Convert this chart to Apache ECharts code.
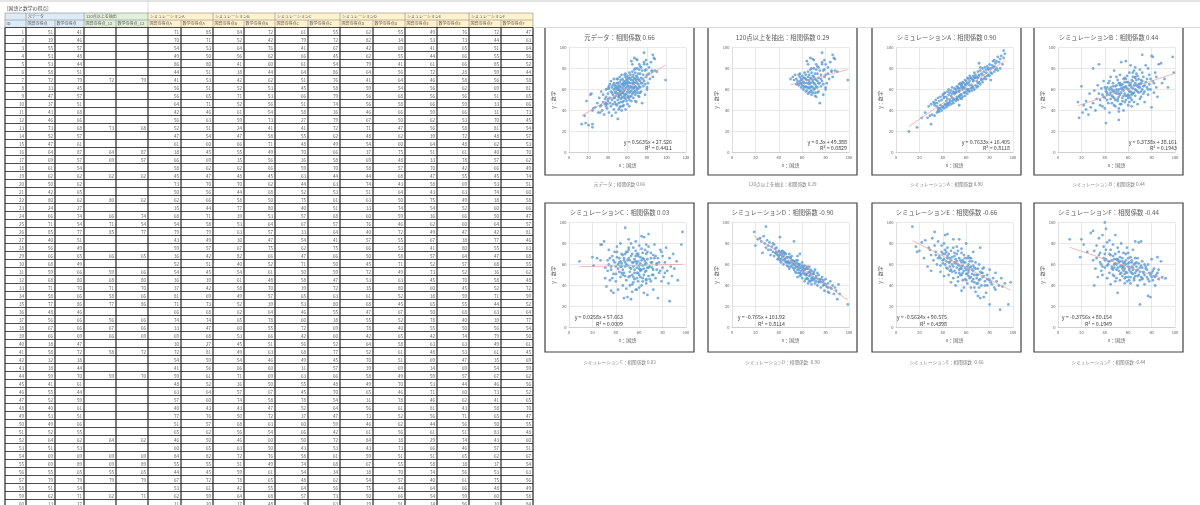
<!DOCTYPE html>
<html>
<head>
<meta charset="utf-8">
<script src="https://cdn.jsdelivr.net/npm/echarts@6/dist/echarts.min.js"></script>
<style>
  html, body { margin: 0; padding: 0; background: #fff; width: 1200px; height: 505px; overflow: hidden; }
  #chart { position: absolute; left: 0; top: 0; width: 1200px; height: 505px; }
</style>
</head>
<body>
<div id="chart"></div>
<script>
// 国語(x)・数学(y)の得点 [x, y] -- 先頭から表の ID 1,2,3... の順
var origData = [
  [51,41],[39,46],[55,57],[53,48],[53,44],[58,51],[72,79],[33,45],[47,57],[37,51],
  [43,68],[46,66],[73,68],[52,57],[47,61],[64,87],[69,57],[61,54],[62,62],[50,62],
  [42,65],[80,62],[24,27],[66,74],[71,54],[85,77],[40,51],[56,49],[66,65],[68,49],
  [59,66],[68,80],[71,70],[58,66],[77,86],[48,46],[56,66],[67,66],[66,69],[38,47],
  [58,72],[32,38],[38,44],[59,70],[41,61],[55,44],[52,59],[40,61],[53,51],[49,66],
  [52,55],[64,62],[51,53],[69,69],[69,89],[55,65],[79,79],[51,54],[62,71],
  [13,27],[17,28],[20,26],[24,24],[16,35],[18,49],[23,56],[24,40],[25,42],[22,55],
  [27,43],[29,47],[30,38],[31,52],[32,44],[33,58],[34,40],[35,48],[35,55],[36,36],
  [37,46],[38,53],[38,60],[39,42],[40,49],[40,56],[41,38],[41,63],[42,47],[42,52],
  [43,44],[43,58],[44,35],[44,50],[44,62],[45,46],[45,55],[46,41],[46,52],[46,60],
  [47,48],[47,64],[48,38],[48,54],[48,58],[49,45],[49,61],[49,70],[50,32],[50,50],
  [50,56],[50,66],[51,47],[51,53],[51,60],[52,43],[52,63],[52,72],[53,55],[53,59],
  [54,40],[54,52],[54,65],[55,48],[55,61],[55,70],[56,45],[56,56],[56,63],[57,52],
  [57,59],[57,74],[58,41],[58,55],[58,68],[59,49],[59,62],[60,46],[60,58],[60,64],
  [60,73],[61,52],[61,60],[61,67],[62,44],[62,57],[62,76],[63,53],[63,63],[63,70],
  [64,49],[64,59],[64,66],[65,56],[65,72],[65,84],[66,52],[66,61],[67,58],[67,71],
  [67,90],[68,55],[68,63],[68,76],[69,48],[69,67],[70,60],[70,72],[70,88],[71,57],
  [71,65],[72,53],[72,69],[72,84],[73,62],[73,75],[74,58],[74,71],[74,81],[75,47],
  [75,66],[76,74],[76,63],[77,95],[77,68],[78,55],[78,78],[79,72],[80,60],[80,84],
  [81,66],[82,75],[83,70],[85,78],[86,93],[87,90],[88,89],[88,78],[90,77],[99,69],
  [44,57],[45,64],[46,70],[47,52],[48,63],[49,56],[50,60],[50,70],[51,64],[52,67],
  [53,62],[53,69],[54,57],[54,74],[55,53],[56,68],[56,59],[57,64],[57,54],[58,61],
  [58,75],[59,56],[59,66],[60,69],[60,53],[61,63],[61,71],[62,66],[62,50],[63,58],
  [63,74],[64,69],[64,54],[65,62],[65,77],[66,67],[66,57],[67,62],[67,79],[68,70],
  [68,59],[69,73],[69,62],[70,66],[70,80],[71,75],[71,61],[72,63],[73,82],[73,57],
  [74,66],[75,78],[76,70],[77,84],[78,65],[79,88],[80,74],[82,81],[84,86],[86,72]
];
var simA = [
  [71,85],[70,71],[54,53],[49,50],[86,80],[44,51],[41,53],[56,51],[56,65],[64,71],
  [42,46],[56,63],[52,51],[47,54],[61,60],[38,45],[66,69],[58,62],[45,47],[73,70],
  [50,56],[62,66],[35,44],[68,71],[54,58],[79,79],[43,49],[59,57],[36,42],[52,51],
  [54,45],[36,39],[37,42],[81,69],[71,73],[66,68],[74,74],[33,47],[69,68],[30,27],
  [72,81],[54,59],[41,56],[59,61],[48,52],[63,64],[57,60],[40,43],[77,76],[51,57],
  [65,62],[46,50],[60,65],[84,82],[55,55],[44,45],[67,72],[53,61],[62,59],
  [11,20],[18,24],[22,33],[25,38],[27,33],[28,44],[29,35],[30,46],[31,36],[32,48],
  [33,35],[33,45],[34,50],[35,38],[35,47],[36,52],[36,40],[37,49],[37,39],[38,53],
  [38,42],[39,50],[39,40],[40,55],[40,44],[41,52],[41,42],[42,57],[42,45],[43,53],
  [43,43],[44,58],[44,47],[45,55],[45,45],[45,60],[46,48],[46,57],[47,59],[47,46],
  [48,56],[48,49],[48,62],[49,47],[49,58],[50,51],[50,61],[50,57],[51,49],[51,60],
  [52,63],[52,53],[52,58],[53,50],[53,62],[54,65],[54,54],[55,52],[55,61],[55,66],
  [56,55],[56,64],[57,53],[57,67],[57,62],[58,57],[58,66],[59,54],[59,64],[59,69],
  [60,58],[60,68],[61,56],[61,66],[61,71],[62,60],[62,70],[63,58],[63,68],[63,73],
  [64,61],[64,71],[65,59],[65,70],[65,64],[66,62],[66,73],[67,60],[67,71],[67,76],
  [68,64],[68,74],[69,62],[69,72],[70,66],[70,77],[70,63],[71,74],[71,67],[72,65],
  [72,78],[73,75],[73,69],[74,80],[74,67],[75,77],[75,70],[76,72],[76,81],[77,79],
  [77,70],[78,82],[78,73],[79,80],[79,74],[80,84],[80,73],[81,80],[81,76],[82,83],
  [82,75],[83,87],[83,81],[84,77],[84,88],[85,85],[85,79],[86,87],[87,78],[87,91],
  [88,86],[89,89],[89,80],[90,92],[91,84],[92,97],[92,90],[93,94]
];
var simB = [
  [84,72],[52,42],[64,76],[56,62],[41,60],[38,44],[42,62],[52,53],[71,53],[52,56],
  [61,54],[59,73],[24,41],[47,58],[66,71],[55,49],[35,56],[62,66],[48,45],[70,62],
  [44,68],[58,50],[77,80],[39,53],[53,64],[63,57],[30,47],[67,75],[82,66],[40,52],
  [54,61],[61,48],[58,70],[49,57],[52,39],[62,64],[65,78],[60,55],[53,66],[45,51],
  [49,63],[54,46],[66,60],[71,69],[36,50],[57,67],[74,58],[43,47],[50,72],[68,63],
  [56,54],[46,60],[63,50],[72,76],[51,49],[59,61],[78,65],[42,55],[64,68],
  [17,48],[18,33],[20,63],[21,38],[22,45],[24,49],[26,36],[27,56],[28,43],[30,80],
  [31,59],[32,40],[33,51],[34,64],[35,84],[36,45],[37,61],[38,55],[39,68],[40,42],
  [41,28],[41,58],[42,50],[43,66],[44,38],[44,55],[45,62],[45,72],[46,47],[47,53],
  [47,66],[48,59],[48,78],[49,44],[50,56],[50,64],[51,51],[51,69],[52,31],[52,60],
  [53,46],[53,74],[54,57],[54,86],[55,52],[55,65],[56,40],[56,59],[57,71],[57,48],
  [58,63],[58,87],[59,54],[60,45],[60,67],[61,58],[61,76],[62,52],[62,83],[63,62],
  [63,44],[64,56],[64,72],[65,64],[65,48],[66,54],[66,81],[67,59],[67,69],[68,46],
  [68,73],[69,62],[69,57],[70,79],[70,51],[71,66],[72,60],[72,93],[73,56],[73,72],
  [74,64],[74,48],[75,83],[76,62],[76,70],[77,55],[78,74],[79,60],[80,92],[80,43],
  [81,91],[81,68],[82,57],[83,76],[84,62],[85,53],[86,84],[88,85],[89,66],[91,70],
  [94,62],[98,91],[99,76],
  [45,57],[48,52],[50,60],[52,66],[53,55],[55,60],[56,70],[57,56],[58,54],[59,67],
  [60,60],[61,64],[62,58],[63,69],[64,61],[65,57],[66,66],[67,64],[68,58],[69,70],
  [70,65],[71,58],[72,68],[73,63],[75,67],[77,60],[79,70],[47,63],[49,50],[51,58],
  [54,64],[57,62],[60,52],[63,55],[66,72],[69,65],[46,54],[44,60],[42,57],[40,62]
];
var simC = [
  [61,55],[79,72],[41,67],[66,45],[61,54],[64,86],[51,76],[45,58],[66,79],[51,74],
  [58,36],[27,79],[41,72],[55,62],[48,49],[70,66],[36,58],[59,70],[63,44],[44,63],
  [52,53],[75,61],[40,51],[57,68],[67,57],[33,64],[54,41],[62,75],[47,66],[71,50],
  [50,59],[58,47],[39,72],[65,63],[53,80],[46,55],[60,38],[72,69],[42,60],[56,52],
  [68,77],[49,45],[31,57],[63,66],[55,48],[45,70],[78,54],[52,64],[37,47],[60,59],
  [66,42],[50,72],[43,53],[58,61],[74,68],[54,34],[48,62],[64,56],[57,73],
  [9,63],[20,67],[21,59],[24,66],[27,64],[28,79],[30,82],[31,47],[32,39],[33,54],
  [34,60],[34,74],[35,45],[36,35],[37,68],[38,51],[38,33],[39,62],[40,44],[41,77],
  [42,56],[42,36],[43,66],[44,48],[44,80],[45,61],[46,40],[46,69],[47,52],[47,28],
  [48,95],[48,58],[49,72],[49,37],[50,64],[50,29],[51,48],[51,84],[52,57],[52,40],
  [53,68],[53,27],[54,50],[54,62],[55,76],[55,43],[56,65],[56,55],[57,36],[57,82],
  [58,70],[58,52],[59,44],[59,63],[60,78],[60,56],[61,48],[61,67],[62,87],[62,40],
  [63,59],[63,71],[64,33],[64,50],[65,74],[65,60],[66,46],[66,54],[67,31],[67,65],
  [68,89],[68,49],[69,58],[70,71],[70,44],[71,62],[72,36],[72,55],[73,79],[74,47],
  [75,60],[76,28],[76,66],[77,52],[78,74],[79,44],[80,57],[80,68],[81,48],[82,62],
  [83,76],[84,54],[85,42],[86,25],[86,66],[87,58],[88,49],[89,70],[90,56],[92,63],
  [93,45],[96,79],[97,91],
  [40,58],[43,62],[45,52],[47,64],[49,60],[51,66],[52,49],[54,70],[55,58],[56,46],
  [57,63],[58,57],[59,68],[60,50],[61,61],[62,55],[63,47],[64,65],[65,53],[66,61],
  [67,72],[68,57],[69,46],[70,62],[72,50],[73,66],[75,55],[48,70],[46,50],[44,58],
  [38,64],[36,55],[53,56],[59,52],[62,64],[66,70],[71,57],[77,62],[82,52],[35,66]
];
var simD = [
  [62,55],[82,34],[42,69],[62,55],[79,41],[64,56],[41,64],[59,54],[56,68],[56,58],
  [46,66],[67,50],[71,47],[48,62],[54,60],[37,75],[69,48],[58,57],[44,68],[74,43],
  [51,64],[63,50],[33,74],[60,59],[76,46],[40,72],[57,55],[66,53],[50,58],[45,71],
  [72,49],[53,63],[35,80],[61,52],[68,45],[47,67],[55,52],[78,40],[42,65],[64,58],
  [52,61],[70,51],[39,69],[58,49],[49,70],[65,46],[31,78],[56,61],[73,52],[46,62],
  [61,56],[84,38],[43,73],[59,51],[67,55],[38,70],[54,57],[75,44],[50,66],
  [19,91],[20,78],[22,84],[24,85],[25,82],[26,71],[27,87],[28,80],[29,96],[29,76],
  [30,83],[31,74],[32,81],[33,69],[34,77],[35,72],[36,79],[36,68],[37,71],[38,76],
  [39,65],[40,73],[40,68],[41,86],[41,70],[42,62],[43,67],[44,72],[44,60],[45,65],
  [46,70],[47,59],[48,67],[48,63],[49,56],[50,62],[51,68],[52,57],[53,82],[53,60],
  [54,53],[55,64],[56,55],[56,48],[57,60],[58,70],[58,52],[59,57],[60,47],[60,62],
  [61,54],[62,44],[62,59],[63,51],[64,47],[65,56],[65,42],[66,49],[67,44],[68,54],
  [68,41],[69,51],[70,45],[71,55],[71,42],[72,47],[73,40],[74,50],[75,45],[76,38],
  [77,48],[78,43],[79,35],[80,46],[81,39],[82,42],[83,33],[84,44],[85,37],[86,40],
  [87,32],[88,38],[89,35],[90,27],[91,41],[92,32],[99,22],
  [40,66],[42,72],[44,64],[45,70],[47,62],[48,58],[50,67],[51,59],[52,64],[53,55],
  [55,58],[56,64],[57,52],[58,60],[59,50],[60,56],[61,58],[62,51],[63,56],[64,50],
  [65,52],[66,44],[67,52],[68,47],[69,46],[70,53],[72,44],[74,46],[76,43],[78,45],
  [49,61],[54,62],[46,63],[43,70],[38,72],[57,58],[63,46],[66,58],[80,41],[82,38]
];
var simE = [
  [49,76],[53,73],[41,65],[44,66],[61,66],[72,28],[46,58],[56,62],[56,56],[66,59],
  [59,66],[62,53],[56,58],[39,72],[64,48],[51,61],[33,78],[70,42],[47,55],[58,69],
  [43,63],[75,49],[54,52],[36,66],[62,60],[49,47],[67,38],[41,80],[57,64],[52,57],
  [73,52],[45,70],[60,45],[38,59],[65,55],[50,68],[78,40],[55,50],[42,74],[63,63],
  [48,53],[69,47],[34,69],[59,57],[53,44],[71,60],[46,62],[81,43],[56,71],[44,56],
  [61,51],[29,74],[66,46],[51,65],[58,38],[74,56],[40,61],[64,66],[54,59],
  [14,96],[17,77],[18,72],[20,73],[22,81],[24,66],[25,83],[27,58],[28,76],[30,69],
  [30,54],[31,85],[32,64],[33,91],[34,72],[35,60],[36,82],[37,68],[38,53],[39,78],
  [40,64],[41,49],[42,88],[42,70],[43,57],[44,89],[44,76],[45,50],[46,66],[47,73],
  [47,43],[48,60],[49,84],[50,54],[50,71],[51,40],[52,63],[52,77],[53,48],[54,84],
  [54,66],[55,56],[56,35],[56,75],[57,52],[58,62],[59,46],[60,80],[60,55],[61,42],
  [62,68],[62,49],[63,57],[64,38],[65,63],[65,51],[66,72],[67,43],[67,57],[68,34],
  [68,62],[69,50],[70,56],[70,30],[71,45],[72,76],[72,53],[73,40],[74,48],[75,29],
  [75,57],[76,44],[77,33],[78,50],[79,46],[80,22],[80,55],[82,41],[83,47],[84,38],
  [85,52],[86,44],[88,40],[89,17],[90,47],[91,39],[93,42],[96,22],[98,43],
  [40,70],[42,60],[44,68],[45,62],[46,54],[48,67],[49,58],[50,62],[51,52],[52,70],
  [53,60],[54,55],[55,64],[56,50],[57,59],[58,54],[59,62],[60,51],[61,58],[62,55],
  [63,47],[64,58],[65,44],[66,54],[67,50],[68,56],[69,42],[70,50],[72,46],[74,52],
  [76,40],[78,46],[47,64],[43,72],[38,66],[57,45],[63,66],[71,38],[80,45],[85,36]
];
var simF = [
  [72,47],[44,63],[51,64],[55,56],[85,52],[59,44],[56,58],[69,81],[51,65],[33,66],
  [31,73],[70,45],[81,54],[48,57],[62,53],[40,70],[57,62],[66,49],[45,74],[53,51],
  [74,60],[38,58],[60,66],[50,47],[64,57],[42,81],[77,46],[55,63],[47,68],[68,55],
  [36,62],[58,48],[52,72],[71,59],[44,52],[63,64],[39,77],[56,54],[79,50],[49,61],
  [61,45],[35,69],[54,59],[67,62],[46,56],[73,52],[41,65],[58,70],[65,47],[50,55],
  [83,48],[43,60],[57,51],[62,67],[37,54],[53,63],[75,56],[48,49],[60,58],
  [10,84],[19,67],[20,84],[22,79],[25,72],[28,90],[30,92],[30,64],[31,40],[32,56],
  [33,78],[34,48],[35,85],[36,71],[37,60],[38,88],[38,50],[39,66],[40,100],[40,57],
  [41,94],[41,74],[42,47],[43,63],[44,83],[45,69],[45,41],[46,58],[47,79],[47,50],
  [48,65],[49,88],[49,44],[50,60],[51,76],[51,33],[52,54],[53,67],[53,45],[54,80],
  [55,58],[55,49],[56,71],[57,42],[58,60],[58,53],[59,76],[60,48],[61,62],[61,55],
  [62,42],[63,58],[64,74],[64,51],[65,45],[66,61],[66,82],[67,54],[68,40],[68,66],
  [69,50],[70,22],[70,57],[71,82],[72,46],[72,63],[73,53],[74,41],[75,58],[76,48],
  [77,30],[77,60],[78,44],[79,29],[80,52],[80,65],[81,45],[82,56],[83,40],[84,50],
  [85,67],[86,46],[88,63],[89,48],[92,47],
  [44,70],[46,64],[48,60],[49,70],[50,65],[51,57],[52,62],[53,58],[54,52],[55,66],
  [56,61],[57,56],[58,64],[59,52],[60,61],[61,57],[62,48],[63,62],[64,55],[65,60],
  [66,52],[67,58],[68,49],[69,61],[70,53],[72,57],[74,50],[76,55],[78,52],[80,48],
  [47,55],[42,59],[40,64],[57,47],[63,52],[66,66],[71,48],[82,49],[86,55],[60,71]
];

// 合計がこの点数以上のものを抽出
var cutoff = 120;
var extracted = origData.filter(function (p) { return p[0] + p[1] >= cutoff; });

var chartNames = ['元データ', cutoff + '点以上を抽出', 'シミュレーションA', 'シミュレーションB',
                  'シミュレーションC', 'シミュレーションD', 'シミュレーションE', 'シミュレーションF'];
var corrs = ['0.66', '0.29', '0.90', '0.44', '0.03', '-0.90', '-0.66', '-0.44'];
var slopes = [0.5635, 0.3, 0.7633, 0.3738, 0.0258, -0.765, -0.5624, -0.3756];
var intercepts = [27.526, 49.388, 16.405, 38.161, 57.663, 101.92, 90.575, 80.154];
var r2s = ['0.4411', '0.0829', '0.8118', '0.1943', '0.0009', '0.8114', '0.4398', '0.1949'];
var xMaxes = [120, 100, 100, 100, 100, 100, 100, 100];
var groupNames = chartNames;
var colHeads = ['国語の得点', '数学の得点'];

var FONT = '"Noto Sans CJK JP", "Noto Sans", sans-serif';
var sets = [origData, extracted, simA, simB, simC, simD, simE, simF];
var tableSets = [origData, null, simA, simB, simC, simD, simE, simF];

var myChart = echarts.init(document.getElementById('chart'));

// ---- 左側の表 ----
var g = [];
var colEdges = [5, 26, 55, 84, 116, 148, 181, 213, 244, 275, 308, 340, 373, 405, 437, 469, 501, 533];
var groupBg = ['#DDEBF7', '#E2EFDA', '#FFF2CC', '#FFF2CC', '#FFF2CC', '#FFF2CC', '#FFF2CC', '#FFF2CC'];
var rowTop0 = 27.5, rowH = 8, nRows = 60;

g.push({ type: 'line', silent: true, shape: { x1: 0, y1: 1, x2: 1200, y2: 1 }, style: { stroke: '#C8C8C8', lineWidth: 1 } });
g.push({ type: 'line', silent: true, shape: { x1: 148, y1: 0, x2: 148, y2: 13 }, style: { stroke: '#D0D0D0', lineWidth: 0.8 } });
g.push({ type: 'text', silent: true, x: 7, y: 8.5, style: { text: '[国語と数学の得点]', fontSize: 4.8, fontFamily: FONT, fill: '#404040', verticalAlign: 'middle' } });

// 見出しの背景
g.push({ type: 'rect', silent: true, shape: { x: 5, y: 13, width: 21, height: 14.5 }, style: { fill: '#DDEBF7' } });
for (var k = 0; k < 8; k++) {
  var gl = colEdges[1 + k * 2], gr = colEdges[3 + k * 2];
  g.push({ type: 'rect', silent: true, shape: { x: gl, y: 13, width: gr - gl, height: 14.5 }, style: { fill: groupBg[k] } });
  g.push({ type: 'text', silent: true, x: gl + 2, y: 16.7, style: { text: groupNames[k], fontSize: 4, fontFamily: FONT, fill: '#595959', verticalAlign: 'middle' } });
  for (var c = 0; c < 2; c++) {
    var cl = colEdges[1 + k * 2 + c], cr = colEdges[2 + k * 2 + c];
    var suffix = k === 0 ? '' : (k === 1 ? '_' + cutoff : String.fromCharCode(63 + k));
    g.push({ type: 'text', silent: true, x: cl + 1.5, y: 23.8,
      style: { text: colHeads[c] + suffix, fontSize: 4, fontFamily: FONT, fill: '#595959', verticalAlign: 'middle',
               width: cr - cl - 2.5, overflow: 'truncate', ellipsis: '' } });
  }
}
g.push({ type: 'text', silent: true, x: 6.5, y: 23.8, style: { text: 'ID', fontSize: 4, fontFamily: FONT, fill: '#595959', verticalAlign: 'middle' } });

// 見出しの罫線
[13, 20].forEach(function (y) {
  g.push({ type: 'line', silent: true, shape: { x1: 5, y1: y, x2: 533, y2: y }, style: { stroke: '#8C8C8C', lineWidth: 0.6 } });
});
[5, 26, 84, 148, 213, 275, 340, 405, 469, 533].forEach(function (x) {
  g.push({ type: 'line', silent: true, shape: { x1: x, y1: 13, x2: x, y2: 20 }, style: { stroke: '#8C8C8C', lineWidth: 0.6 } });
});
colEdges.forEach(function (x) {
  g.push({ type: 'line', silent: true, shape: { x1: x, y1: 20, x2: x, y2: 27.5 }, style: { stroke: '#8C8C8C', lineWidth: 0.6 } });
});

// データ行
for (var r = 0; r < nRows; r++) {
  var cy = rowTop0 + r * rowH + rowH / 2 + 0.3;
  var vals = [r + 1];
  for (var s = 0; s < 8; s++) {
    if (s === 1) {
      var p = origData[r];
      if (p[0] + p[1] >= cutoff) { vals.push(p[0], p[1]); } else { vals.push('', ''); }
    } else {
      vals.push(tableSets[s][r][0], tableSets[s][r][1]);
    }
  }
  for (var c2 = 0; c2 < vals.length; c2++) {
    if (vals[c2] === '') continue;
    g.push({ type: 'text', silent: true, x: colEdges[c2 + 1] - 2, y: cy,
      style: { text: String(vals[c2]), fontSize: 4.6, fontFamily: FONT, fill: '#5A5A5A', align: 'right', verticalAlign: 'middle' } });
  }
}
for (var r2 = 0; r2 <= nRows; r2++) {
  var ly = rowTop0 + r2 * rowH;
  g.push({ type: 'line', silent: true, shape: { x1: 5, y1: ly, x2: 533, y2: ly }, style: { stroke: '#333333', lineWidth: 0.9 } });
}
colEdges.forEach(function (x) {
  g.push({ type: 'line', silent: true, shape: { x1: x, y1: 27.5, x2: x, y2: 505 }, style: { stroke: '#262626', lineWidth: 1.2 } });
});

// ---- 右側の散布図 ----
var boxLeft = [545, 708, 872, 1034];
var rowTop = [28, 203];
var boxH = [147, 149];
var eqRight = [672, 847, 1010, 1177, 623, 785, 947, 1112];
var eqMid = [145, 320.5];

g.push({ type: 'line', silent: true, shape: { x1: 535, y1: 27.5, x2: 1200, y2: 27.5 }, style: { stroke: '#D0D0D0', lineWidth: 0.8 } });

var grids = [], xAxes = [], yAxes = [], series = [];
for (var i = 0; i < 8; i++) {
  var row = i < 4 ? 0 : 1, col = i % 4;
  var bl = boxLeft[col], bt = rowTop[row], bh = boxH[row];
  var pl = bl + 24, pt = bt + 19.5;

  if (row === 0) {
    g.push({ type: 'polyline', silent: true, shape: { points: [[bl, bt], [bl, bt + bh], [bl + 149, bt + bh], [bl + 149, bt]] },
      style: { stroke: '#404040', lineWidth: 1.2, fill: null } });
  } else {
    g.push({ type: 'rect', silent: true, shape: { x: bl, y: bt, width: 149, height: bh },
      style: { stroke: '#404040', lineWidth: 1.2, fill: null } });
  }
  var title = chartNames[i] + '：相関係数 ' + corrs[i];
  g.push({ type: 'text', silent: true, x: bl + 74.5, y: bt + 9.5,
    style: { text: title, fontSize: 6.3, fontFamily: FONT, fill: '#595959', align: 'center', verticalAlign: 'middle' } });
  g.push({ type: 'text', silent: true, x: bl + 74.5, y: bt + bh + (row === 0 ? 9 : 10),
    style: { text: title, fontSize: 4.6, fontFamily: FONT, fill: '#808080', align: 'center', verticalAlign: 'middle' } });
  var eq = 'y = ' + slopes[i] + 'x + ' + intercepts[i];
  g.push({ type: 'text', silent: true, x: eqRight[i], y: eqMid[row], z: 10,
    style: { text: eq + '\nR² = ' + r2s[i], fontSize: 5.3, lineHeight: 6.8, fontFamily: FONT, fill: '#404040', align: 'right', verticalAlign: 'middle' } });

  grids.push({ left: pl, top: pt, width: 117, height: 105, containLabel: false, outerBoundsMode: 'none' });
  xAxes.push({
    gridIndex: i, type: 'value', min: 0, max: xMaxes[i], interval: 20,
    name: 'x：国語', nameLocation: 'middle', nameGap: 10.5,
    nameTextStyle: { fontSize: 5, fontFamily: FONT, color: '#595959' },
    axisLine: { show: true, lineStyle: { color: '#BFBFBF', width: 0.6 } },
    axisTick: { show: false },
    axisLabel: { fontSize: 4, margin: 2.5, color: '#595959', fontFamily: FONT },
    splitLine: { show: true, lineStyle: { color: '#D9D9D9', width: 0.6 } }
  });
  yAxes.push({
    gridIndex: i, type: 'value', min: 0, max: 100, interval: 20,
    name: 'y：数学', nameLocation: 'middle', nameGap: 11.5, nameRotate: 90,
    nameTextStyle: { fontSize: 5, fontFamily: FONT, color: '#595959' },
    axisLine: { show: true, lineStyle: { color: '#D9D9D9', width: 0.6 } },
    axisTick: { show: false },
    axisLabel: { fontSize: 4, margin: 2.5, color: '#595959', fontFamily: FONT },
    splitLine: { show: true, lineStyle: { color: '#D9D9D9', width: 0.6 } }
  });

  var xs = sets[i].map(function (p) { return p[0]; });
  var x0 = Math.min.apply(null, xs), x1 = Math.max.apply(null, xs);
  series.push({
    type: 'scatter', xAxisIndex: i, yAxisIndex: i, data: sets[i],
    symbol: 'circle', symbolSize: 2.8, silent: true, z: 2,
    itemStyle: { color: '#5B9BD5' }
  });
  series.push({
    type: 'line', xAxisIndex: i, yAxisIndex: i, silent: true, z: 3,
    showSymbol: false, symbol: 'none',
    data: [[x0, slopes[i] * x0 + intercepts[i]], [x1, slopes[i] * x1 + intercepts[i]]],
    lineStyle: { color: '#E89A9A', width: 0.7 }
  });
}

myChart.setOption({
  animation: false,
  backgroundColor: '#fff',
  grid: grids,
  xAxis: xAxes,
  yAxis: yAxes,
  series: series,
  graphic: g
});
</script>
</body>
</html>
